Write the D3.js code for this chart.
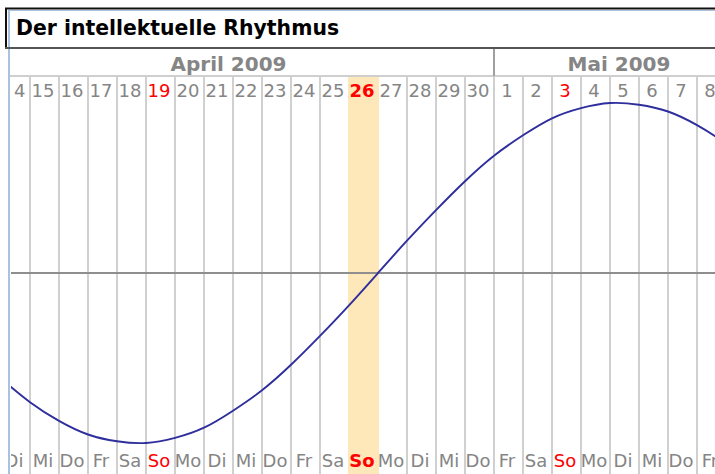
<!DOCTYPE html>
<html><head><meta charset="utf-8">
<script src="https://cdn.jsdelivr.net/npm/d3@7/dist/d3.min.js"></script>
<style>html,body{margin:0;padding:0;background:#fff;overflow:hidden}</style>
</head><body><svg id="c" width="715" height="474"></svg>
<script>
// ---- data ----
const chartTitle = "Der intellektuelle Rhythmus";
const monthLabels = ["April 2009", "Mai 2009"];
const monthStarts = ["2009-04-01", "2009-05-01"];
const weekdayLabels = ["So", "Mo", "Di", "Mi", "Do", "Fr", "Sa"];
const firstDay = "2009-04-13";
const todayDay = "2009-04-26";
// intellectual rhythm (%) at the start of each day, Apr 13 .. May 10
const intellectValues = [-46, -62, -76, -87, -95, -99, -100, -97, -91, -81, -69, -54, -37, -19,
                          0, 19, 37, 54, 69, 81, 91, 97, 100, 99, 95, 87, 76, 62];

// ---- layout ----
const W = 715, H = 474;
const plotLeft = 10, gridTop = 76, curveTop = 103, curveBottom = 443;
const FONT = "DejaVu Sans, Verdana, sans-serif";
const parse = d3.utcParse("%Y-%m-%d");
const days = intellectValues.map((v, i) => ({date: d3.utcDay.offset(parse(firstDay), i), value: v}));
const today = parse(todayDay);

const x = d3.scaleUtc()
  .domain([parse("2009-04-14"), parse("2009-05-09")])
  .range([1, 726]);
const y = d3.scaleLinear().domain([-100, 100]).range([curveBottom, curveTop]);

const svg = d3.select("#c");
svg.append("rect").attr("width", W).attr("height", H).attr("fill", "#fff");
const defs = svg.append("defs");
defs.append("clipPath").attr("id", "plotclip")
  .append("rect").attr("x", plotLeft + 1).attr("y", 0).attr("width", W).attr("height", H);
defs.append("clipPath").attr("id", "numclip")
  .append("rect").attr("x", plotLeft + 3).attr("y", 0).attr("width", W).attr("height", H);

const plot = svg.append("g").attr("clip-path", "url(#plotclip)");

// day grid lines
plot.append("g").selectAll("line").data(days).join("line")
  .attr("x1", d => x(d.date)).attr("x2", d => x(d.date))
  .attr("y1", gridTop).attr("y2", H)
  .attr("stroke", "#d0d0d0").attr("stroke-width", 2);

// today highlight
plot.append("rect")
  .attr("x", x(today) - 1).attr("width", x(d3.utcDay.offset(today, 1)) - x(today) + 2)
  .attr("y", gridTop + 1).attr("height", H - gridTop)
  .attr("fill", "#fee7b9");

// header separator line
svg.append("line").attr("x1", plotLeft).attr("x2", W).attr("y1", gridTop).attr("y2", gridTop)
  .attr("stroke", "#cfcfcf").attr("stroke-width", 2);

// zero line
plot.append("line").attr("x1", plotLeft).attr("x2", W).attr("y1", y(0)).attr("y2", y(0))
  .attr("stroke", "#8e8e8e").attr("stroke-width", 2);

// curve
plot.append("path").datum(days)
  .attr("d", d3.line().x(d => x(d.date)).y(d => y(d.value)).curve(d3.curveNatural))
  .attr("fill", "none").attr("stroke", "#2e2e9c").attr("stroke-width", 1.9);

// day numbers + weekday labels
const isSunday = d => d.date.getUTCDay() === 0;
const isToday = d => +d.date === +today;
const labelX = d => x(d.date) + 13;
svg.append("g").attr("clip-path", "url(#numclip)").selectAll("text").data(days).join("text")
  .attr("x", labelX).attr("y", 96.5)
  .attr("text-anchor", "middle")
  .attr("font-family", FONT).attr("font-size", 18)
  .attr("font-weight", d => isToday(d) ? "bold" : "normal")
  .attr("fill", d => isSunday(d) ? "#ff0000" : "#858585")
  .text(d => d.date.getUTCDate());
plot.append("g").selectAll("text").data(days).join("text")
  .attr("x", labelX).attr("y", 467)
  .attr("text-anchor", "middle")
  .attr("font-family", FONT).attr("font-size", 18)
  .attr("font-weight", d => isToday(d) ? "bold" : "normal")
  .attr("fill", d => isSunday(d) ? "#ff0000" : "#858585")
  .text(d => weekdayLabels[d.date.getUTCDay()]);

// month header
const viewLeft = -37, viewRight = 744;
const mBounds = monthStarts.map(s => x(parse(s)));
monthLabels.forEach((m, i) => {
  const a = Math.max(mBounds[i], viewLeft);
  const b = i + 1 < mBounds.length ? mBounds[i + 1] : viewRight;
  svg.append("text").attr("x", (a + b) / 2).attr("y", 70.5)
    .attr("text-anchor", "middle").attr("font-family", FONT)
    .attr("font-size", 20).attr("font-weight", "bold").attr("fill", "#858585")
    .text(m);
});
mBounds.filter(v => v > plotLeft && v < W).forEach(v => {
  svg.append("line").attr("x1", v).attr("x2", v).attr("y1", 48).attr("y2", gridTop)
    .attr("stroke", "#a0a0a0").attr("stroke-width", 2);
});

// title box
svg.append("line").attr("x1", 9).attr("x2", 9).attr("y1", 10).attr("y2", H)
  .attr("stroke", "#a9c3df").attr("stroke-width", 2);
svg.append("line").attr("x1", 8).attr("x2", W).attr("y1", 10.5).attr("y2", 10.5)
  .attr("stroke", "#a9c3df").attr("stroke-width", 1);
svg.append("line").attr("x1", 5).attr("x2", W).attr("y1", 8.5).attr("y2", 8.5)
  .attr("stroke", "#111").attr("stroke-width", 2);
svg.append("line").attr("x1", 6).attr("x2", 6).attr("y1", 8).attr("y2", 49)
  .attr("stroke", "#111").attr("stroke-width", 2);
svg.append("line").attr("x1", 5).attr("x2", W).attr("y1", 48).attr("y2", 48)
  .attr("stroke", "#555").attr("stroke-width", 2);
svg.append("text").attr("x", 16).attr("y", 35)
  .attr("font-family", FONT).attr("font-size", 20.4).attr("font-weight", "bold").attr("fill", "#000")
  .text(chartTitle);
</script></body></html>
